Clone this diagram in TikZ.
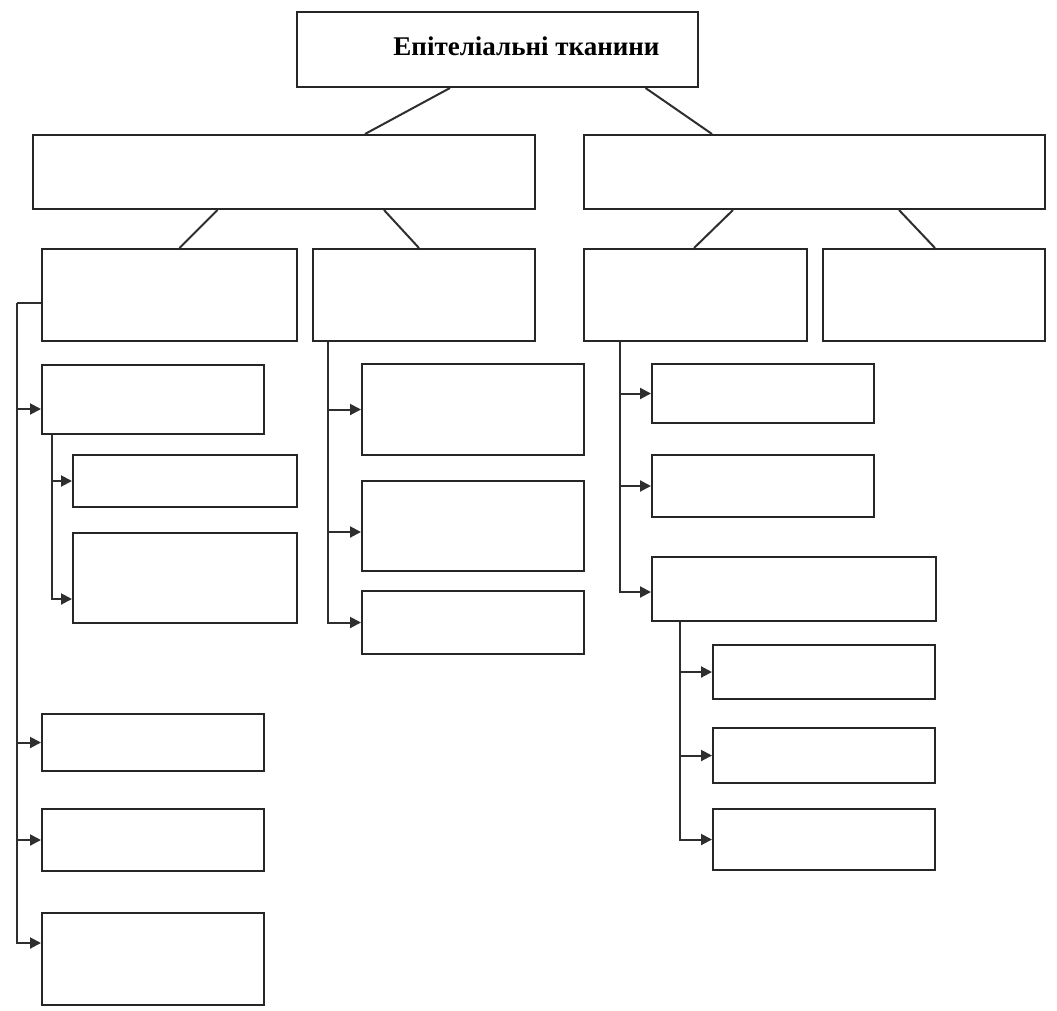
\documentclass[tikz,border=0pt]{standalone}
\usepackage{fontspec}
\setmainfont{Liberation Serif}
\usetikzlibrary{positioning}
\usetikzlibrary{arrows.meta}
\newcommand{\tTitle}{\fontsize{27}{32}\selectfont\bfseries}

\begin{document}
\begin{tikzpicture}[x=1pt,y=-1pt,on grid,>={Triangle[length=11pt,width=11pt]},
		box/.style={rectangle,draw=black!85,line width=2pt,inner sep=0pt},
		sbox/.style={box,minimum width=222pt},
		link/.style={draw=black!82,line width=2pt},
		every edge/.style={link}]
		\useasboundingbox (0,0) rectangle (1057,1010);

		% upper levels
		\node[box,minimum width=401pt,minimum height=75pt,
			label={[font=\tTitle,xshift=29pt,yshift=3.5pt]center:Епітеліальні тканини}]
									(root)	at (497.5,49.5)		{};
		\node[box,minimum width=502pt,minimum height=74pt]	(left)	at (284,172)	{};
		\node[box,minimum width=461pt,minimum height=74pt]	(right)	at (814.5,172)	{};
		\node[box,minimum width=255pt,minimum height=92pt]	(la)	at (169.5,295)	{};
		\node[sbox,minimum height=92pt]	(lb)	at (424,295)	{};
		\node[sbox,minimum width=223pt,minimum height=92pt]	(ra)	at (695.5,295)	{};
		\node[sbox,minimum height=92pt]	(rb)	at (934,295)	{};

		% left column
		\node[sbox,minimum height=69pt]	(la1)	at (153,399.5)	{};
		\node[box,minimum width=224pt,minimum height=52pt]	(la1a)	at (185,481)	{};
		\node[box,minimum width=224pt,minimum height=90pt]	(la1b)	[below=97pt of la1a]	{};
		\node[sbox,minimum height=57pt]	(la2)	[below=343pt of la1]	{};
		\node[sbox,minimum height=62pt]	(la3)	[below=97.5pt of la2]	{};
		\node[sbox,minimum height=92pt]	(la4)	[below=119pt of la3]	{};

		% middle column
		\node[sbox,minimum height=91pt]	(lb1)	at (473,409.5)	{};
		\node[sbox,minimum height=90pt]	(lb2)	[below=116.5pt of lb1]	{};
		\node[sbox,minimum height=63pt]	(lb3)	[below=96.5pt of lb2]	{};

		% right column
		\node[sbox,minimum height=59pt]	(ra1)	at (763,393.5)	{};
		\node[sbox,minimum height=62pt]	(ra2)	[below=92.5pt of ra1]	{};
		\node[box,minimum width=284pt,minimum height=64pt]	(ra3)	at (794,589)	{};
		\node[sbox,minimum height=54pt]	(ra3a)	at (824,672)	{};
		\node[sbox,minimum height=55pt]	(ra3b)	[below=83.5pt of ra3a]	{};
		\node[sbox,minimum height=61pt]	(ra3c)	[below=84pt of ra3b]	{};

		% trunk heads
		\coordinate (lt)	at ([xshift=-24pt,yshift=-8pt]la.west);
		\coordinate (la1t)	at ([xshift=10.5pt]la1.south west);
		\coordinate (lbt)	at ([xshift=16pt]lb.south west);
		\coordinate (rat)	at ([xshift=37pt]ra.south west);
		\coordinate (ra3t)	at ([xshift=29pt]ra3.south west);

		\path
		([xshift=-47.5pt]root.south) edge ([xshift=81pt]left.north)
		([xshift=148pt]root.south) edge ([xshift=-102.5pt]right.north)
		([xshift=-66.5pt]left.south) edge ([xshift=10pt]la.north)
		([xshift=100pt]left.south) edge ([xshift=-5pt]lb.north)
		([xshift=-81.5pt]right.south) edge ([xshift=-1.5pt]ra.north)
		([xshift=84.5pt]right.south) edge ([xshift=1pt]rb.north)
		([yshift=-8pt]la.west) edge (lt);

		\draw[link,->] (lt) |- ([yshift=-9.5pt]la1.west);
		\draw[link,->] (lt) |- (la2.west);
		\draw[link,->] (lt) |- (la3.west);
		\draw[link,->] (lt) |- ([yshift=16pt]la4.west);
		\draw[link,->] (la1t) |- (la1a.west);
		\draw[link,->] (la1t) |- ([yshift=-21pt]la1b.west);
		\draw[link,->] (lbt) |- (lb1.west);
		\draw[link,->] (lbt) |- ([yshift=-6pt]lb2.west);
		\draw[link,->] (lbt) |- (lb3.west);
		\draw[link,->] (rat) |- (ra1.west);
		\draw[link,->] (rat) |- (ra2.west);
		\draw[link,->] (rat) |- ([yshift=-3pt]ra3.west);
		\draw[link,->] (ra3t) |- (ra3a.west);
		\draw[link,->] (ra3t) |- (ra3b.west);
		\draw[link,->] (ra3t) |- (ra3c.west);
\end{tikzpicture}
\end{document}
